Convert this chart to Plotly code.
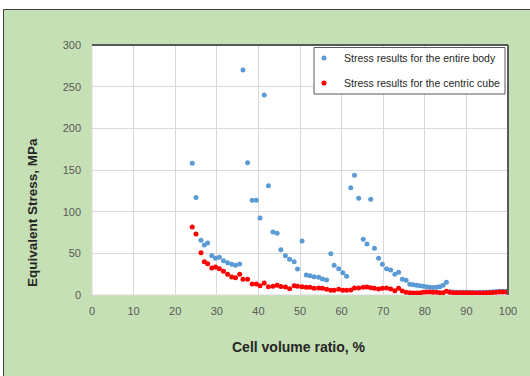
import plotly.graph_objects as go

cell_ratio = [24.1, 25.0, 26.2, 27.0, 27.8, 28.8, 29.7, 30.6, 31.6, 32.6, 33.6, 34.5, 35.5, 36.3, 37.4,
              38.5, 39.5, 40.4, 41.4, 42.4, 43.5, 44.5, 45.4, 46.5, 47.5, 48.6, 49.4, 50.5, 51.5, 52.4,
              53.4, 54.5, 55.4, 56.4, 57.4, 58.2, 59.3, 60.3, 61.2, 62.2, 63.1, 64.1, 65.2, 66.1, 67.0,
              67.9, 68.9, 69.8, 70.8, 71.8, 72.8, 73.7, 74.6, 75.5, 76.4, 77.2, 78.0, 78.8, 79.6, 80.4,
              81.2, 82.0, 82.8, 83.6, 84.4, 85.2, 86.0, 86.8, 87.6, 88.4, 89.2, 90.0, 90.8, 91.6, 92.4,
              93.2, 94.0, 94.8, 95.6, 96.4, 97.2, 98.0, 98.8, 99.6]

entire_body = [158, 117, 65.6, 60, 62.4, 47.2, 44, 45.2, 41.2, 38.8, 36.8, 35.6, 37.2, 270, 158.8,
               113.6, 113.6, 92.4, 240, 131, 75.6, 74, 54.4, 47.2, 43, 40, 31.2, 64.8, 24, 23.2,
               22, 21.2, 19.2, 18, 49.6, 35.6, 31.6, 26.8, 22.4, 128.8, 143.6, 116, 67, 61.2, 114.8,
               56, 44.2, 36.8, 31.6, 30, 24.8, 27.2, 18.8, 17.8, 12.8, 12.4, 11.8, 11.2, 10.4, 9.8,
               9.4, 9.0, 9.2, 9.8, 11.8, 15.4, 4.0, 3.6, 3.4, 3.4, 3.2, 3.4, 3.2, 3.0, 3.0,
               3.2, 3.2, 3.4, 3.6, 3.8, 4.2, 4.4, 4.4, 4.4]

centric_cube = [81.6, 73.2, 50.8, 40, 37.6, 32.4, 33.6, 31.6, 28.4, 24.8, 21.6, 20.8, 24.8, 18.8, 18.8,
                13.2, 13.2, 11.2, 14.4, 10, 10.4, 11.6, 10.2, 9.6, 7.6, 11.2, 10.4, 10, 9.2, 9.2,
                8, 8.4, 8, 6.8, 5.6, 5.6, 6.8, 5.6, 5.6, 6, 8.4, 8.4, 9.2, 9.6, 8.8,
                8, 7.2, 8, 8.4, 7.2, 5.2, 8, 4.8, 3.2, 2.8, 2.4, 2.4, 2.4, 3.2, 3.6,
                3.6, 3.2, 3.2, 2.8, 2.8, 4.4, 3.2, 2.8, 2.8, 2.6, 2.6, 2.8, 2.6, 2.6, 2.4,
                2.4, 2.4, 2.6, 2.8, 3.0, 3.4, 3.6, 3.6, 3.6]

x_ticks = [0, 10, 20, 30, 40, 50, 60, 70, 80, 90, 100]
y_ticks = [0, 50, 100, 150, 200, 250, 300]

series_names = ["Stress results for the entire body", "Stress results for the centric cube"]

FONT = "Liberation Sans, Arial, sans-serif"
GREEN = "#C5E0B4"

fig = go.Figure()
fig.add_trace(go.Scatter(x=cell_ratio, y=entire_body, mode="markers", name=series_names[0],
                         legendgroup="a",
                         marker=dict(color="#5B9BD5", size=5, line=dict(width=0))))
fig.add_trace(go.Scatter(x=cell_ratio, y=centric_cube, mode="markers", name=series_names[1],
                         legendgroup="b",
                         marker=dict(color="#FF0000", size=5, line=dict(width=0))))

# plot area geometry in pixels: x 92..508, y 45..295
L, R, T, B = 92, 508, 45, 295
W, H = R - L, B - T
def px(xp):
    return (xp - L) / W
def py(yp):
    return (B - yp) / H

shapes = [
    dict(type="rect", xref="paper", yref="paper", x0=px(3.5), x1=px(540), y0=py(390), y1=py(9.5),
         fillcolor=GREEN, line=dict(color="#3F3F3F", width=1), layer="below"),
    dict(type="rect", xref="paper", yref="paper", x0=0, x1=1, y0=0, y1=1,
         fillcolor="white", line=dict(color="#D9D9D9", width=1), layer="below"),
    dict(type="line", xref="paper", yref="paper", x0=0, x1=1, y0=1, y1=1,
         line=dict(color="#595959", width=2)),
    dict(type="line", xref="paper", yref="paper", x0=1, x1=1, y0=0, y1=1,
         line=dict(color="#595959", width=2)),
    # legend box
    dict(type="rect", xref="paper", yref="paper", x0=px(314), x1=px(505), y0=py(94), y1=py(47.5),
         fillcolor="white", line=dict(color="#595959", width=1), layer="above"),
]

annotations = [
    dict(text="<b>Equivalent Stress, MPa</b>", xref="paper", yref="paper", x=px(33), y=py(213),
         textangle=-90, showarrow=False, font=dict(family=FONT, size=13.5, color="#262626"),
         xanchor="center", yanchor="middle"),
    dict(text="<b>Cell volume ratio, %</b>", xref="paper", yref="paper", x=px(299), y=py(347),
         showarrow=False, font=dict(family=FONT, size=14, color="#262626"),
         xanchor="center", yanchor="middle"),
]

fig.update_layout(
    width=530, height=376,
    margin=dict(l=L, r=530 - R, t=T, b=376 - B),
    paper_bgcolor="white",
    plot_bgcolor="rgba(0,0,0,0)",
    font=dict(family=FONT, size=11, color="#595959"),
    shapes=shapes,
    annotations=annotations,
    showlegend=True,
    legend=dict(x=px(304), y=py(43.5), xanchor="left", yanchor="top",
                bgcolor="rgba(0,0,0,0)", borderwidth=0,
                font=dict(family=FONT, size=10.5, color="#262626"),
                tracegroupgap=6, itemwidth=30),
    xaxis=dict(range=[0, 100], tickvals=x_ticks, showgrid=True, gridcolor="#D9D9D9", gridwidth=1,
               zeroline=False, showline=False, ticks="", ticklabelstandoff=8,
               tickfont=dict(size=11, color="#595959")),
    yaxis=dict(range=[0, 300], tickvals=y_ticks, showgrid=True, gridcolor="#D9D9D9", gridwidth=1,
               zeroline=False, showline=False, ticks="", ticklabelstandoff=10,
               tickfont=dict(size=11, color="#595959")),
)

fig.write_html("out.html")
